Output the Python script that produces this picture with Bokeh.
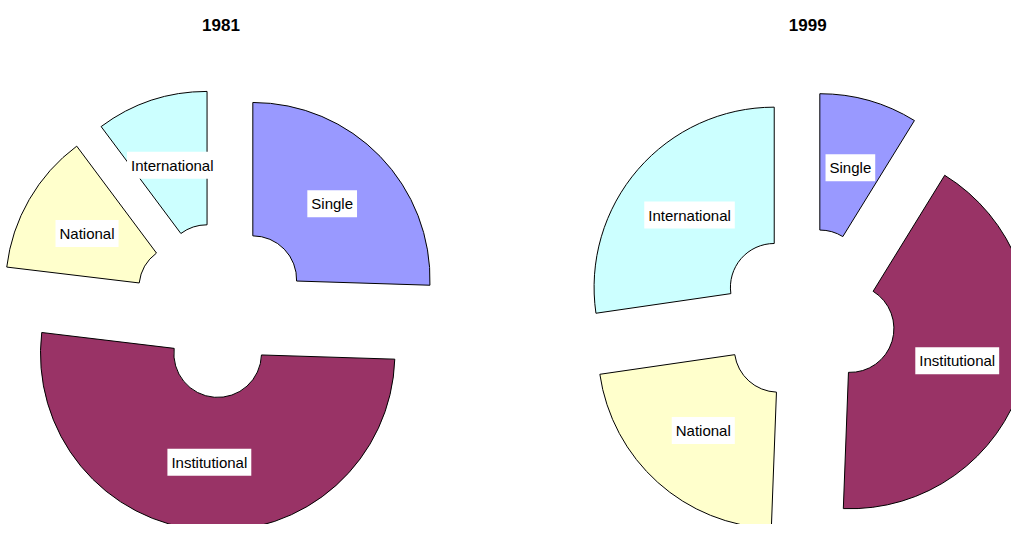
import math
from bokeh.plotting import figure
from bokeh.models import Range1d, ColumnDataSource
from bokeh.core.properties import value
from bokeh.embed import file_html
from bokeh.resources import INLINE

# ---- data ----
categories = ["Single", "Institutional", "National", "International"]
shares_1981 = [25.5, 51.4, 12.9, 10.2]
shares_1999 = [8.8, 41.8, 22.1, 27.3]
years = ["1981", "1999"]
colors = ["#9999FF", "#993366", "#FFFFCC", "#CCFFFF"]

# ---- layout (reference pixels, y measured upward from the bottom) ----
W, H = 1011, 524
centers = [(224, 221), (820, 215)]
outer_radii = [180, 183]
inner_radius = 44.5
explode = 45
title_y = 515

p = figure(width=W, height=H, output_backend="svg", toolbar_location=None,
           x_range=Range1d(0, 1027), y_range=Range1d(0, 540),
           min_border=0, outline_line_color=None)
p.axis.visible = False
p.grid.visible = False
p.background_fill_color = "white"
p.border_fill_color = "white"

for (cx, cy), r_out, shares, year in zip(centers, outer_radii, [shares_1981, shares_1999], years):
    total = float(sum(shares))
    xs, ys, starts, ends, lx, ly = [], [], [], [], [], []
    a = math.pi / 2
    r_mid = (inner_radius + r_out) / 2
    for s in shares:
        span = 2 * math.pi * s / total
        start, end = a, a - span
        bis = (start + end) / 2
        ax = cx + explode * math.cos(bis)
        ay = cy + explode * math.sin(bis)
        xs.append(ax); ys.append(ay)
        starts.append(start); ends.append(end)
        lx.append(ax + r_mid * math.cos(bis))
        ly.append(ay + r_mid * math.sin(bis))
        a = end
    src = ColumnDataSource(dict(x=xs, y=ys, start=starts, end=ends, color=colors,
                                lx=lx, ly=ly, cat=categories))
    p.annular_wedge(x="x", y="y", inner_radius=inner_radius, outer_radius=r_out,
                    start_angle="start", end_angle="end", direction="clock",
                    fill_color="color", line_color="black", line_width=1, source=src)
    p.text(x="lx", y="ly", text="cat", source=src, text_align="center",
           text_baseline="middle", text_font=value("Liberation Sans"),
           text_font_size="15px", text_color="black",
           background_fill_color="white",
           padding=dict(left=4, right=4, top=5, bottom=5))
    p.text(x=[cx], y=[title_y], text=[year], text_align="center",
           text_baseline="middle", text_font=value("Liberation Sans"),
           text_font_size="17px", text_font_style="bold", text_color="black")

open("out.html", "w").write(file_html(p, INLINE))
